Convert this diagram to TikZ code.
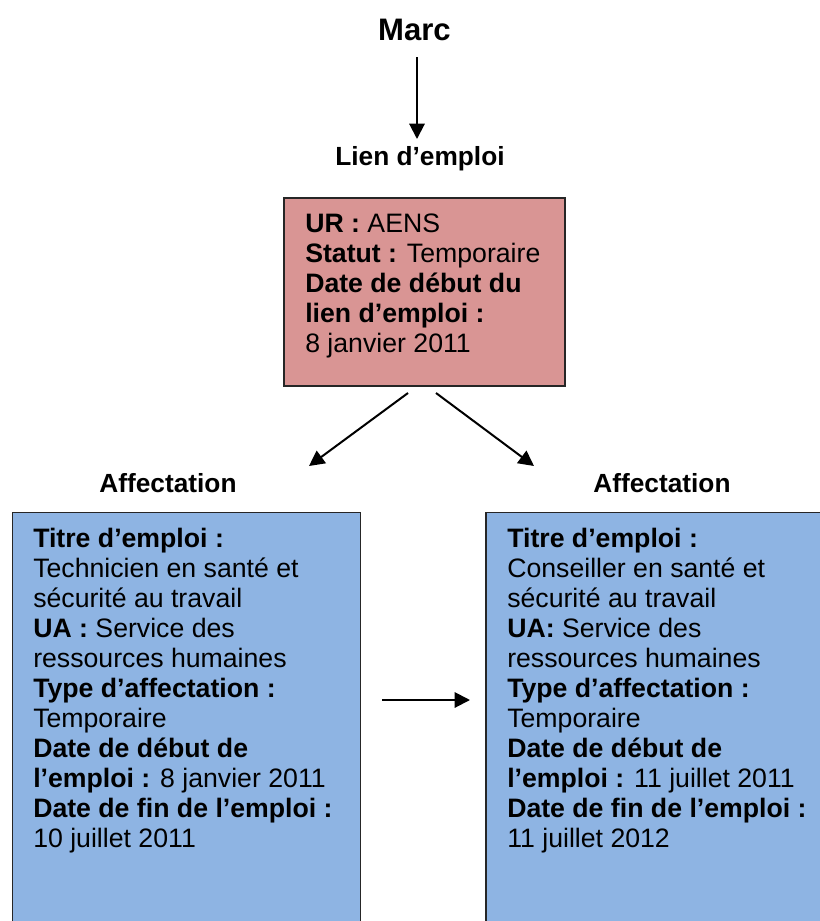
\documentclass[tikz,border=0pt]{standalone}
\usepackage{fontspec}
\setmainfont{Liberation Sans}
\usetikzlibrary{arrows.meta,calc}
\definecolor{rosebox}{HTML}{D99594}
\definecolor{bluebox}{HTML}{8EB4E3}
\begin{document}
\begin{tikzpicture}[x=0.75pt,y=-0.75pt,
  body/.style={font=\fontsize{20pt}{22.5pt}\selectfont},
  title/.style={font=\fontsize{19.7pt}{22.5pt}\selectfont\bfseries, inner sep=0pt},
  boxtext/.style={body, align=left, inner sep=0pt, anchor=north west},
  frame/.style={draw=black!85, line width=1.2pt, anchor=north west, inner sep=0pt},
  arr/.style={line width=1.5pt, -{Triangle[length=11.5pt,width=11.5pt]}}]
\useasboundingbox (0,0) rectangle (820,921);
\clip (0,0) rectangle (820,921);
\fill[white] (0,0) rectangle (820,921);
% top
\node[font=\fontsize{23.3pt}{26pt}\selectfont\bfseries, inner sep=0pt, anchor=base] (marc) at (414.5,40.7) {Marc};
\node[title, anchor=base] (lien) at (420,165) {Lien d’emploi};
\coordinate (m1) at (417,57);
\coordinate (m2) at (417,139);
\draw[arr] (m1) -- (m2);
% red box
\node[frame, fill=rosebox, minimum width=210.75pt, minimum height=141pt] (red) at (283,197) {};
\node[boxtext] (redtxt) at (305,213.9) {\textbf{UR :} AENS\\
\textbf{Statut :} Temporaire\\
\textbf{Date de début du}\\
\textbf{lien d’emploi :}\\
8 janvier 2011};
% diagonal arrows
\coordinate (dl1) at (408,393);
\coordinate (dl2) at (309,466);
\coordinate (dr1) at (436,393);
\coordinate (dr2) at (534,466);
\draw[arr] (dl1) -- (dl2);
\draw[arr] (dr1) -- (dr2);
% affectation titles
\node[title, anchor=base] (affL) at (168,492) {Affectation};
\node[title, anchor=base] (affR) at (662,492) {Affectation};
% blue boxes
\node[frame, fill=bluebox, minimum width=261pt, minimum height=330pt] (boxL) at (11.5,511.5) {};
\node[frame, fill=bluebox, minimum width=270pt, minimum height=330pt] (boxR) at (485,511.5) {};
\node[boxtext] (txtL) at (33,527.9) {\textbf{Titre d’emploi :}\\
Technicien en santé et\\
sécurité au travail\\
\textbf{UA :} Service des\\
ressources humaines\\
\textbf{Type d’affectation :}\\
Temporaire\\
\textbf{Date de début de}\\
\textbf{l’emploi :} 8 janvier 2011\\
\textbf{Date de fin de l’emploi :}\\
10 juillet 2011};
\node[boxtext] (txtR) at (507,527.9) {\textbf{Titre d’emploi :}\\
Conseiller en santé et\\
sécurité au travail\\
\textbf{UA:} Service des\\
ressources humaines\\
\textbf{Type d’affectation :}\\
Temporaire\\
\textbf{Date de début de}\\
\textbf{l’emploi :} 11 juillet 2011\\
\textbf{Date de fin de l’emploi :}\\
11 juillet 2012};
% horizontal arrow
\coordinate (h1) at (382,700);
\coordinate (h2) at (470,700);
\draw[arr] (h1) -- (h2);
\end{tikzpicture}
\end{document}
